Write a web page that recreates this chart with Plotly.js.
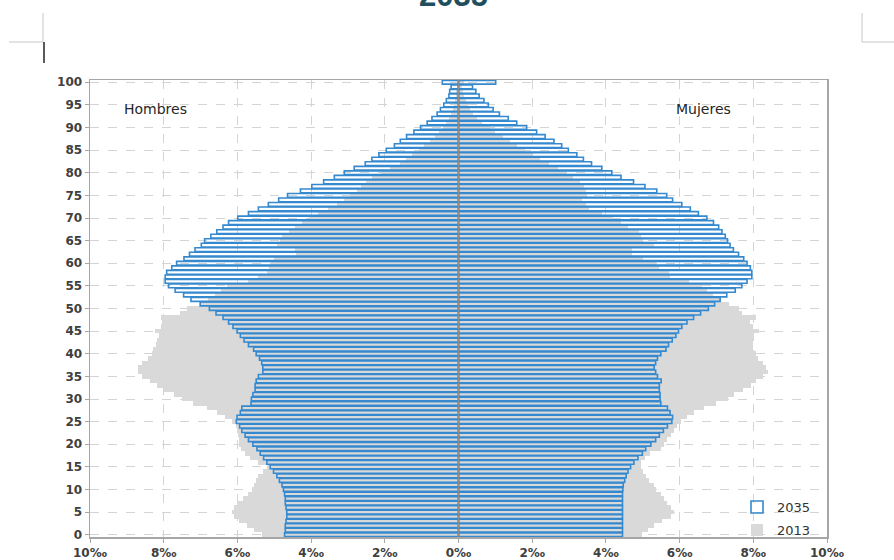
<!DOCTYPE html>
<html>
<head>
<meta charset="utf-8">
<script src="https://cdn.plot.ly/plotly-3.0.1.min.js"></script>
<style>html,body{margin:0;padding:0;background:#fff;}#chart{width:894px;height:560px;}</style>
</head>
<body>
<div id="chart"></div>
<script>
// Ages 0..100
const ages = Array.from({length: 101}, (_, i) => i);

// Per-mille values, index = age
const hombres2035 = [4.72,4.70,4.70,4.68,4.66,4.66,4.68,4.70,4.70,4.72,
  4.75,4.79,4.86,4.93,5.02,5.11,5.20,5.29,5.38,5.47,
  5.58,5.70,5.79,5.88,5.94,6.03,6.01,5.92,5.88,5.63,
  5.62,5.58,5.52,5.52,5.49,5.43,5.31,5.31,5.34,5.40,
  5.49,5.56,5.70,5.82,5.92,6.01,6.12,6.24,6.39,6.58,
  6.76,7.01,7.26,7.46,7.69,7.87,7.96,7.96,7.92,7.78,
  7.65,7.45,7.30,7.15,6.98,6.89,6.72,6.56,6.39,6.24,
  5.99,5.70,5.43,5.16,4.88,4.64,4.29,3.98,3.66,3.37,
  3.10,2.83,2.53,2.35,2.16,1.96,1.74,1.58,1.41,1.21,
  1.03,0.85,0.72,0.58,0.49,0.40,0.33,0.26,0.24,0.20,
  0.44];

const mujeres2035 = [4.45,4.45,4.45,4.45,4.45,4.45,4.45,4.45,4.45,4.45,
  4.46,4.47,4.51,4.55,4.60,4.67,4.76,4.87,4.99,5.08,
  5.22,5.35,5.45,5.56,5.67,5.79,5.81,5.74,5.67,5.49,
  5.47,5.47,5.45,5.45,5.50,5.40,5.35,5.31,5.35,5.40,
  5.49,5.63,5.70,5.80,5.90,5.97,6.06,6.20,6.38,6.57,
  6.78,6.95,7.10,7.28,7.51,7.69,7.83,7.96,7.96,7.92,
  7.83,7.74,7.60,7.46,7.37,7.30,7.24,7.15,7.06,6.92,
  6.74,6.51,6.29,6.06,5.81,5.65,5.38,5.06,4.75,4.41,
  4.16,3.89,3.61,3.39,3.21,2.98,2.80,2.59,2.35,2.12,
  1.85,1.58,1.35,1.11,0.94,0.81,0.69,0.56,0.47,0.38,
  1.01];

const hombres2013 = [5.33,5.55,5.75,5.95,6.10,6.15,6.10,6.00,5.85,5.70,
  5.60,5.55,5.50,5.45,5.30,5.20,5.45,5.65,5.80,5.90,
  5.95,5.97,5.98,6.00,6.05,6.15,6.33,6.56,6.83,7.20,
  7.50,7.73,8.00,8.19,8.37,8.60,8.69,8.69,8.60,8.42,
  8.32,8.30,8.20,8.17,8.14,8.23,8.06,8.04,8.06,7.55,
  7.37,7.00,6.80,6.60,6.45,6.29,5.70,5.45,5.20,5.15,
  5.10,5.00,4.40,4.45,4.93,4.85,4.80,4.60,4.45,4.25,
  4.05,3.80,3.55,3.30,3.10,2.95,2.75,2.65,2.50,2.35,
  2.10,1.85,1.60,1.42,1.25,1.08,0.93,0.78,0.64,0.52,
  0.42,0.33,0.26,0.20,0.15,0.12,0.09,0.07,0.06,0.05,
  0.05];

const mujeres2013 = [4.99,5.13,5.30,5.53,5.76,5.85,5.76,5.67,5.58,5.49,
  5.35,5.30,5.17,5.10,5.00,4.95,4.95,5.05,5.20,5.49,
  5.58,5.67,5.76,5.85,5.94,6.03,6.21,6.39,6.67,7.00,
  7.30,7.48,7.71,7.93,8.07,8.25,8.39,8.34,8.25,8.12,
  8.07,8.00,7.98,7.98,8.03,8.16,8.00,7.90,8.07,7.70,
  7.60,7.35,7.10,6.90,6.75,6.60,6.25,5.75,5.70,5.45,
  5.35,5.00,4.70,4.70,5.30,5.00,4.95,4.90,4.60,4.40,
  4.20,3.90,3.55,3.45,3.35,3.50,3.45,3.40,3.30,3.10,
  2.95,2.70,2.45,2.20,2.00,1.80,1.60,1.40,1.20,1.00,
  0.85,0.65,0.50,0.40,0.32,0.25,0.20,0.15,0.12,0.10,
  0.15];

const xTickVals = [-10,-8,-6,-4,-2,0,2,4,6,8,10];
const xTickText = ['10‰','8‰','6‰','4‰','2‰','0‰','2‰','4‰','6‰','8‰','10‰'];
const yTickVals = [0,5,10,15,20,25,30,35,40,45,50,55,60,65,70,75,80,85,90,95,100];
const sexLabels = ['Hombres', 'Mujeres'];
const seriesNames = ['2035', '2013'];
const chartTitle = '2035';

const BLUE = '#3489cf';
const GREY = '#d9d9d9';

// plot area in pixels, used to place page decorations
const PL = 90, PR = 827, PT = 80, PB = 537;
const px = x => (x - PL) / (PR - PL);
const py = y => (PB - y) / (PB - PT);

const neg = a => a.map(v => -v);

const traces = [
  {type:'bar', orientation:'h', y: ages, x: neg(hombres2013), width: 1,
   marker:{color:GREY, line:{width:0}}, name: seriesNames[1], legend:'legend2',
   showlegend:true, hoverinfo:'skip'},
  {type:'bar', orientation:'h', y: ages, x: mujeres2013, width: 1,
   marker:{color:GREY, line:{width:0}}, name: seriesNames[1], legend:'legend2',
   showlegend:false, hoverinfo:'skip'},
  {type:'bar', orientation:'h', y: ages, x: neg(hombres2035), width: 0.84,
   marker:{color:'rgba(255,255,255,0)', line:{color:BLUE, width:1.6}}, name: seriesNames[0],
   legend:'legend', showlegend:true, hoverinfo:'skip'},
  {type:'bar', orientation:'h', y: ages, x: mujeres2035, width: 0.84,
   marker:{color:'rgba(255,255,255,0)', line:{color:BLUE, width:1.6}}, name: seriesNames[0],
   legend:'legend', showlegend:false, hoverinfo:'skip'}
];

const tickFont = {family:'DejaVu Sans, Verdana, sans-serif', size:12, color:'#404040', weight:'bold'};
const legFont = {family:'DejaVu Sans, Verdana, sans-serif', size:13, color:'#333333'};

const layout = {
  width: 894, height: 560,
  margin: {l: PL, r: 894 - PR, t: PT, b: 560 - PB, pad: 0},
  paper_bgcolor: '#ffffff', plot_bgcolor: '#ffffff',
  barmode: 'overlay', bargap: 0,
  showlegend: true,
  legend: {x: px(737), y: py(492), xanchor:'left', yanchor:'top', bgcolor:'rgba(0,0,0,0)',
           font: legFont, itemwidth: 30},
  legend2: {x: px(737), y: py(515), xanchor:'left', yanchor:'top', bgcolor:'rgba(0,0,0,0)',
           font: legFont, itemwidth: 30},
  xaxis: {range:[-10,10], tickvals:xTickVals, ticktext:xTickText, tickfont:tickFont,
          showgrid:true, gridcolor:'#d4d4d4', griddash:'dash', gridwidth:1,
          zeroline:false, showline:true, linecolor:'#a6a6a6', linewidth:1.5, mirror:true,
          ticks:'outside', ticklen:4, tickcolor:'#a6a6a6', fixedrange:true},
  yaxis: {range:[-0.5,100.5], tickvals:yTickVals, tickfont:tickFont,
          showgrid:true, gridcolor:'#d4d4d4', griddash:'dash', gridwidth:1,
          zeroline:false, showline:true, linecolor:'#a6a6a6', linewidth:1.5, mirror:true,
          ticks:'outside', ticklen:4, tickcolor:'#a6a6a6', fixedrange:true},
  annotations: [
    {text: sexLabels[0], xref:'x', yref:'y', x:-8.23, y:94, showarrow:false,
     font:{family:'DejaVu Sans, Verdana, sans-serif', size:14, color:'#262626'}},
    {text: sexLabels[1], xref:'x', yref:'y', x:6.66, y:94, showarrow:false,
     font:{family:'DejaVu Sans, Verdana, sans-serif', size:14, color:'#262626'}},
    {text: '<b>' + chartTitle + '</b>', xref:'paper', yref:'paper', x:px(453), y:py(15),
     xanchor:'center', yanchor:'bottom', showarrow:false,
     font:{family:'Liberation Sans, Arial, sans-serif', size:31, color:'#1f4f5e'}}
  ],
  shapes: [
    // zero line on top of bars
    {type:'line', xref:'x', yref:'paper', x0:0, x1:0, y0:0, y1:1, layer:'above',
     line:{color:'#8c8c8c', width:1.5}},
    // page crop marks and text cursor
    {type:'line', xref:'paper', yref:'paper', x0:px(43), x1:px(43), y0:py(13), y1:py(42),
     line:{color:'#c8c8c8', width:1}},
    {type:'line', xref:'paper', yref:'paper', x0:px(9), x1:px(43), y0:py(42), y1:py(42),
     line:{color:'#c8c8c8', width:1}},
    {type:'line', xref:'paper', yref:'paper', x0:px(44), x1:px(44), y0:py(42), y1:py(63),
     line:{color:'#222222', width:1.5}},
    {type:'line', xref:'paper', yref:'paper', x0:px(862), x1:px(862), y0:py(13), y1:py(42),
     line:{color:'#c8c8c8', width:1}},
    {type:'line', xref:'paper', yref:'paper', x0:px(862), x1:px(894), y0:py(42), y1:py(42),
     line:{color:'#c8c8c8', width:1}}
  ]
};

Plotly.newPlot('chart', traces, layout, {displayModeBar:false, staticPlot:true});
</script>
</body>
</html>
